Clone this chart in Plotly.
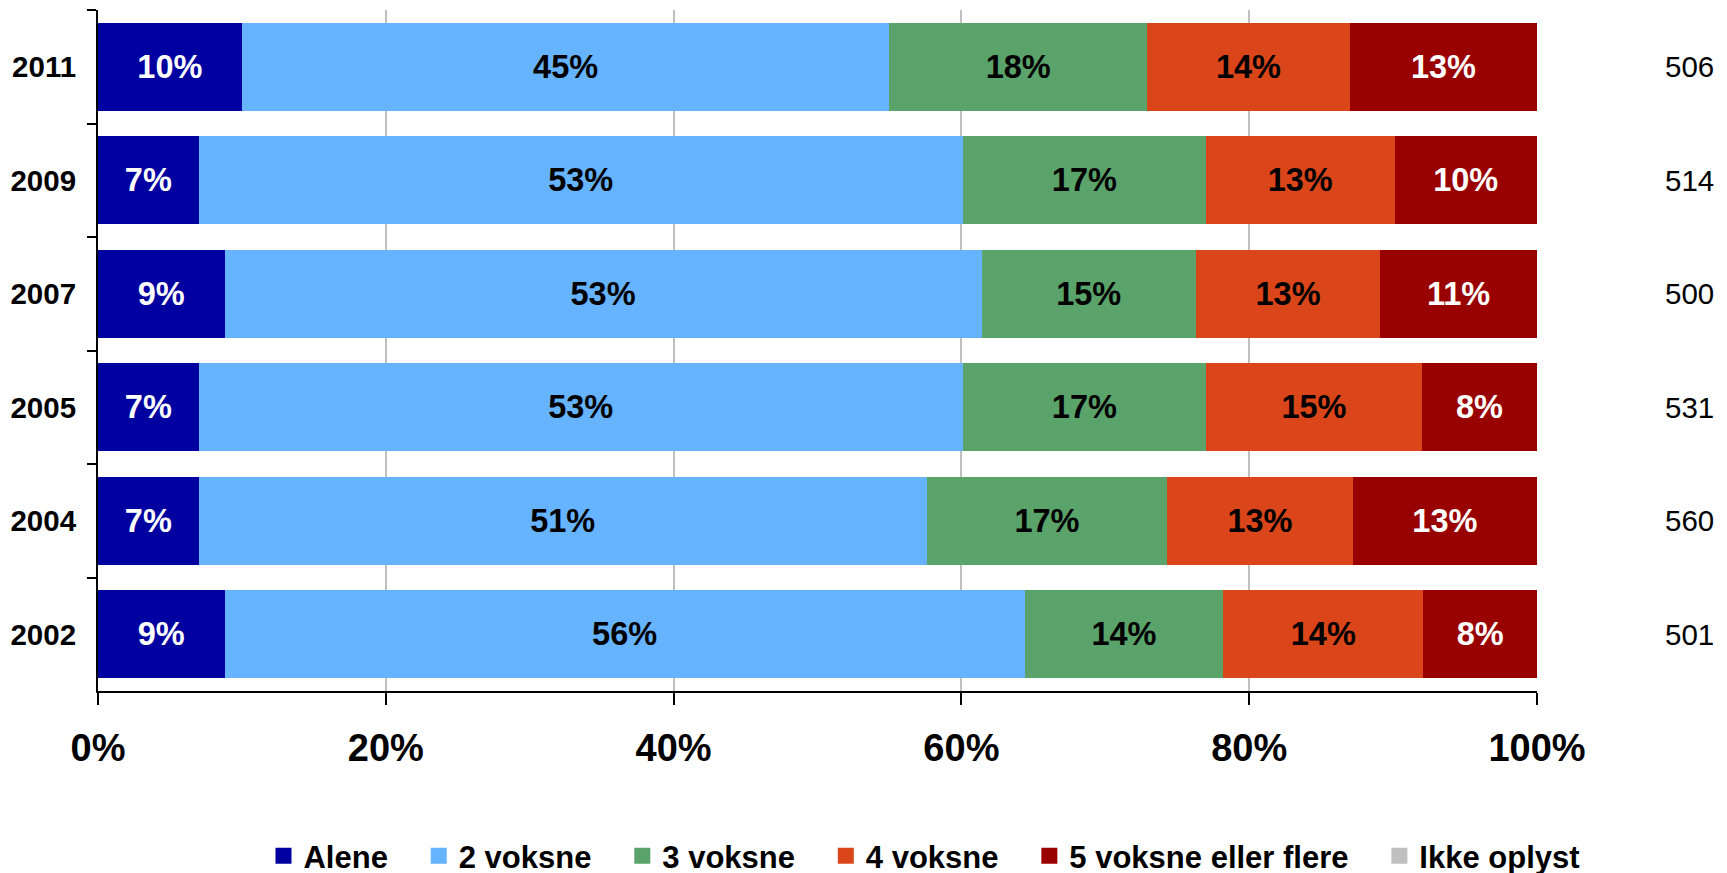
import plotly.graph_objects as go

years = ["2011", "2009", "2007", "2005", "2004", "2002"]
series_names = ["Alene", "2 voksne", "3 voksne", "4 voksne", "5 voksne eller flere", "Ikke oplyst"]
alene = [10.0, 7.0, 8.8, 7.0, 7.0, 8.8]
voksne2 = [45.0, 53.1, 52.6, 53.1, 50.6, 55.6]
voksne3 = [17.9, 16.9, 14.9, 16.9, 16.7, 13.8]
voksne4 = [14.1, 13.1, 12.8, 15.0, 12.9, 13.9]
voksne5 = [13.0, 9.9, 10.9, 8.0, 12.8, 7.9]
ikke_oplyst = [0, 0, 0, 0, 0, 0]
n_values = ["506", "514", "500", "531", "560", "501"]

colors = ["#0000A0", "#66B3FF", "#5AA36A", "#DA4619", "#990000", "#C0C0C0"]
text_colors = ["white", "black", "black", "black", "white", "black"]
series = [alene, voksne2, voksne3, voksne4, voksne5, ikke_oplyst]

FONT = "Liberation Sans, Arial, sans-serif"

fig = go.Figure()
for name, vals, col, tcol in zip(series_names, series, colors, text_colors):
    fig.add_trace(go.Bar(
        y=years, x=vals, name=name, orientation="h",
        marker=dict(color=col, line=dict(width=0)),
        text=[f"{v:.0f}%" if v > 0 else "" for v in vals],
        textposition="inside", insidetextanchor="middle",
        textfont=dict(family=FONT, size=32.5, color=tcol, weight="bold"),
        hoverinfo="skip", showlegend=False, legendgroup=name,
    ))

# legend entries (square swatches), linked to the bar traces
for k, (name, col) in enumerate(zip(series_names, colors)):
    label = name + ("\u00a0\u00a0\u00a0" if k < len(series_names) - 1 else "")
    fig.add_trace(go.Scatter(
        x=[None], y=[None], mode="markers", name=label, legendgroup=name,
        marker=dict(symbol="square", size=16, color=col),
        hoverinfo="skip",
    ))

# N per year, placed at the category index on the y axis
for i, n in enumerate(n_values):
    fig.add_annotation(x=1.0875, y=i, xref="paper", yref="y", text=n,
                       showarrow=False, xanchor="left", yanchor="middle",
                       font=dict(family=FONT, size=29.5, color="black"))

fig.update_layout(
    barmode="stack", bargap=0.225,
    width=1727, height=885,
    margin=dict(l=90, r=198, t=2, b=202),
    plot_bgcolor="white", paper_bgcolor="white",
    font=dict(family=FONT, color="black"),
    legend=dict(orientation="h", x=0.1150, xanchor="left", y=-0.2423, yanchor="middle",
                font=dict(family=FONT, size=31, color="black", weight="bold"),
                traceorder="normal", itemwidth=30),
    xaxis=dict(range=[0, 100], tickvals=[0, 20, 40, 60, 80, 100],
               ticktext=["0%", "20%", "40%", "60%", "80%", "100%"],
               showgrid=True, gridcolor="#C0C0C0", gridwidth=2,
               showline=True, linecolor="black", linewidth=2,
               ticks="outside", ticklen=12, tickwidth=2, tickcolor="black",
               ticklabelstandoff=10,
               tickfont=dict(family=FONT, size=38, color="black", weight="bold"),
               zeroline=False),
    yaxis=dict(type="category", categoryorder="array", categoryarray=years,
               range=[len(years) - 0.5, -0.5],
               showline=True, linecolor="black", linewidth=2,
               ticks="outside", ticklen=9, tickwidth=2, tickcolor="black",
               tickson="boundaries", ticklabelstandoff=14,
               tickfont=dict(family=FONT, size=29.5, color="black", weight="bold"),
               showgrid=False),
)

fig.write_html("out.html", post_script="document.body.style.overflow='hidden';")
